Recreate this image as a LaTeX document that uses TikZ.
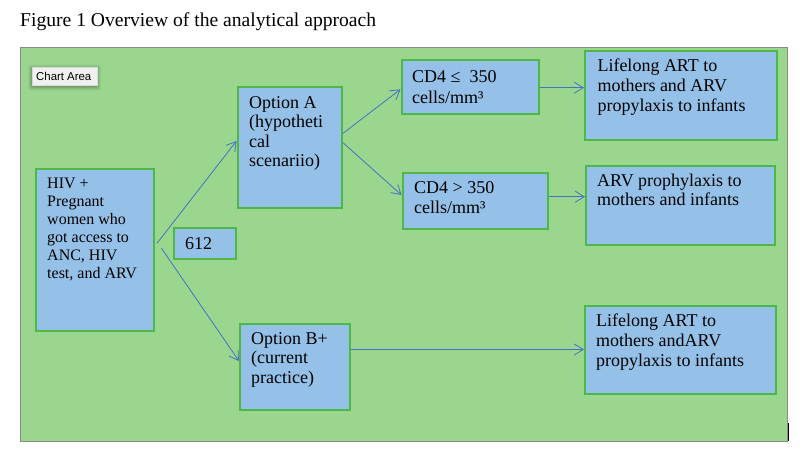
\documentclass[tikz,border=0pt]{standalone}
\usepackage{fontspec}
\setmainfont{Liberation Serif}
\newfontfamily\chartsans{Liberation Sans}
\usetikzlibrary{arrows.meta,fit}
\definecolor{bggreen}{HTML}{9BD68F}
\definecolor{boxblue}{HTML}{95C1E8}
\definecolor{boxline}{HTML}{4DB748}
\definecolor{arrblue}{HTML}{4472C4}
\definecolor{frame}{HTML}{8A8A8A}
\tikzset{
  box/.style={draw=boxline, line width=2pt, fill=boxblue, inner sep=0pt},
  txt/.style={anchor=base west, inner sep=0pt, align=left},
  arr/.style={draw=arrblue, line width=0.8pt, -{Straight Barb[length=9pt,width=11pt,line width=0.8pt]}},
  plain/.style={draw=arrblue, line width=0.8pt}
}
\newcommand{\stk}[1]{\vtop{#1}}
\begin{document}
\begin{tikzpicture}[x=1pt,y=-1pt]
\useasboundingbox (0,0) rectangle (808,464);
\fill[white] (0,0) rectangle (808,464);
% title
\node[txt, font=\fontsize{19.6}{22}\selectfont] (title) at (20,26.7) {Figure 1 Overview of the analytical approach};
% chart area
\node[draw=frame, line width=1pt, fill=bggreen, inner sep=0pt, fit={(20.5,47.5) (787,441)}] (chart) {};
\draw[black, line width=1.5pt] (788.5,423) -- (788.5,441);
% chart area label with soft shadow
\foreach \s/\o in {4/0.04,3/0.05,2/0.07,1/0.09}{
  \fill[black, opacity=\o, rounded corners=2pt] (32-\s,67-\s+1.5) rectangle (97+\s,85+\s+1.5);
}
\node[draw=black!15, line width=0.4pt, fill=black!6, inner sep=0pt, fit={(32,67) (97,85)}] (lbl) {};
\node[txt, font=\chartsans\fontsize{11.4}{13}\selectfont] (lbltxt) at (36,80) {Chart Area};
% boxes
\node[box, fit={(36,168.5) (154,331)}] (hiv) {};
\node[box, fit={(237.5,87) (342,208)}] (optA) {};
\node[box, fit={(173.5,227.5) (235.5,259)}] (n612) {};
\node[box, fit={(240,323.5) (350,410)}] (optB) {};
\node[box, fit={(401.5,60) (539,114)}] (cd4a) {};
\node[box, fit={(402.5,172.5) (547.5,229)}] (cd4b) {};
\node[box, fit={(585,51) (776.5,140)}] (life1) {};
\node[box, fit={(586,166) (775,245)}] (arv) {};
\node[box, fit={(585,306) (776,394)}] (life2) {};
% texts
\node[txt, font=\fontsize{16}{18}\selectfont] (thiv) at (47,188) {\stk{\hbox{HIV +}\hbox{Pregnant}\hbox{women who}\hbox{got access to}\hbox{ANC, HIV}\hbox{test, and ARV}}};
\node[txt, font=\fontsize{18}{19.5}\selectfont] (toptA) at (249,108.3) {\stk{\hbox{Option A}\hbox{(hypotheti}\hbox{cal}\hbox{scenariio)}}};
\node[txt, font=\fontsize{18}{20}\selectfont] (t612) at (185,249) {612};
\node[txt, font=\fontsize{18}{19.5}\selectfont] (toptB) at (251,344.3) {\stk{\hbox{Option B+}\hbox{(current}\hbox{practice)}}};
\node[txt, font=\fontsize{18}{20.3}\selectfont] (tcd4a) at (412,82.7) {\stk{\hbox{CD4 ≤\ \ 350}\hbox{cells/mm³}}};
\node[txt, font=\fontsize{18}{20}\selectfont] (tcd4b) at (414,193.3) {\stk{\hbox{CD4 > 350}\hbox{cells/mm³}}};
\node[txt, font=\fontsize{18}{20}\selectfont] (tlife1) at (597.3,71.7) {\stk{\hbox{Lifelong ART to}\hbox{mothers and ARV}\hbox{propylaxis to infants}}};
\node[txt, font=\fontsize{18}{19}\selectfont] (tarv) at (597,186.7) {\stk{\hbox{ARV prophylaxis to}\hbox{mothers and infants}}};
\node[txt, font=\fontsize{18}{20}\selectfont] (tlife2) at (596,326.7) {\stk{\hbox{Lifelong ART to}\hbox{mothers andARV}\hbox{propylaxis to infants}}};
% connectors
\draw[arr] ([xshift=2pt]hiv.east |- 0,243.3) -- (optA.west |- 0,141);
\draw[arr] ([xshift=6.5pt]hiv.east |- 0,248.3) -- (optB.west |- 0,361);
\draw[arr] (optA.east |- 0,133.3) -- (cd4a.west |- 0,89.3);
\draw[arr] (optA.east |- 0,142.7) -- (cd4b.west |- 0,195);
\draw[arr] (cd4a.east |- 0,87.7) -- (life1.west |- 0,87.7);
\draw[arr] (cd4b.east |- 0,196.7) -- (arv.west |- 0,196.7);
\draw[arr] (optB.east |- 0,349.5) -- (life2.west |- 0,349.5);
\end{tikzpicture}
\end{document}
